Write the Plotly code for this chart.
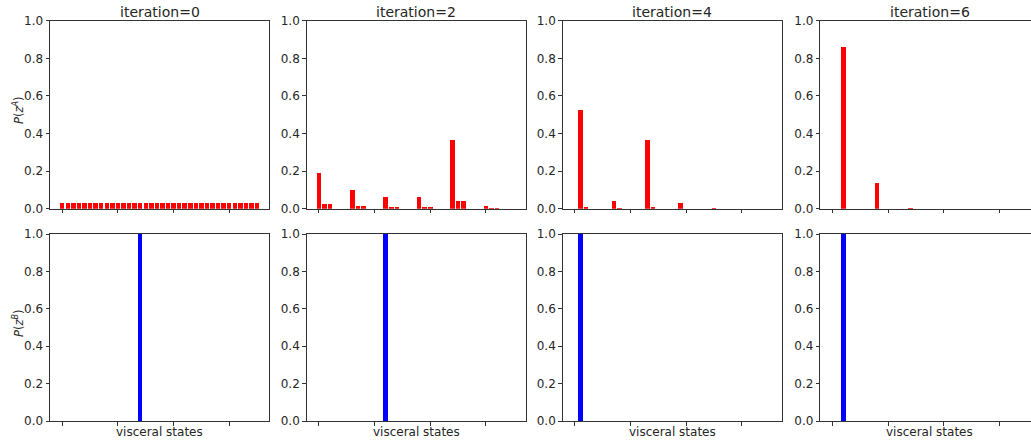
import plotly.graph_objects as go

# ---------------- data ----------------
states = list(range(36))
iterations = ["iteration=0", "iteration=2", "iteration=4", "iteration=6"]

pA_iter0 = [0.0278, 0.0278, 0.0278, 0.0278, 0.0278, 0.0278,
            0.0278, 0.0278, 0.0278, 0.0278, 0.0278, 0.0278,
            0.0278, 0.0278, 0.0278, 0.0278, 0.0278, 0.0278,
            0.0278, 0.0278, 0.0278, 0.0278, 0.0278, 0.0278,
            0.0278, 0.0278, 0.0278, 0.0278, 0.0278, 0.0278,
            0.0278, 0.0278, 0.0278, 0.0278, 0.0278, 0.0278]
pA_iter2 = [0.189, 0.023, 0.023, 0, 0, 0,
            0.102, 0.013, 0.013, 0, 0, 0,
            0.061, 0.007, 0.007, 0, 0, 0,
            0.061, 0.007, 0.007, 0, 0, 0,
            0.366, 0.043, 0.043, 0, 0, 0,
            0.012, 0.003, 0.003, 0, 0, 0]
pA_iter4 = [0, 0.526, 0.009, 0, 0, 0,
            0, 0.041, 0.002, 0, 0, 0,
            0, 0.366, 0.007, 0, 0, 0,
            0, 0.030, 0.001, 0, 0, 0,
            0, 0.002, 0, 0, 0, 0,
            0, 0, 0, 0, 0, 0]
pA_iter6 = [0, 0, 0.860, 0, 0, 0,
            0, 0, 0.135, 0, 0, 0,
            0, 0, 0.003, 0, 0, 0,
            0, 0, 0, 0, 0, 0,
            0, 0, 0, 0, 0, 0,
            0, 0, 0, 0, 0, 0]

pB_iter0 = [0, 0, 0, 0, 0, 0, 0, 0, 0, 0, 0, 0, 0, 0, 1.0, 0, 0, 0,
            0, 0, 0, 0, 0, 0, 0, 0, 0, 0, 0, 0, 0, 0, 0, 0, 0, 0]
pB_iter2 = [0, 0, 0, 0, 0, 0, 0, 0, 0, 0, 0, 0, 1.0, 0, 0, 0, 0, 0,
            0, 0, 0, 0, 0, 0, 0, 0, 0, 0, 0, 0, 0, 0, 0, 0, 0, 0]
pB_iter4 = [0, 1.0, 0, 0, 0, 0, 0, 0, 0, 0, 0, 0, 0, 0, 0, 0, 0, 0,
            0, 0, 0, 0, 0, 0, 0, 0, 0, 0, 0, 0, 0, 0, 0, 0, 0, 0]
pB_iter6 = [0, 0, 1.0, 0, 0, 0, 0, 0, 0, 0, 0, 0, 0, 0, 0, 0, 0, 0,
            0, 0, 0, 0, 0, 0, 0, 0, 0, 0, 0, 0, 0, 0, 0, 0, 0, 0]

x_ticks = [0, 10, 20, 30]
y_ticks = [0.0, 0.2, 0.4, 0.6, 0.8, 1.0]
y_tick_labels = ["0.0", "0.2", "0.4", "0.6", "0.8", "1.0"]
x_label = "visceral states"

top_series = [pA_iter0, pA_iter2, pA_iter4, pA_iter6]
bottom_series = [pB_iter0, pB_iter2, pB_iter4, pB_iter6]

# ---------------- layout geometry (pixels) ----------------
W, H = 1031, 442
col_left = [50, 306.7, 562.7, 820.3]
col_w = 219.3
row_top = [(20.7, 208.7), (234.0, 421.0)]
xr = [-2.19, 37.19]
px_per_unit = col_w / (xr[1] - xr[0])

FONT = "DejaVu Sans"
INK = "#262626"
SPINE = "#333333"

fig = go.Figure()
layout = dict(
    template="none",
    width=W, height=H, margin=dict(l=0, r=0, t=0, b=0, pad=0, autoexpand=False),
    paper_bgcolor="white", plot_bgcolor="white",
    showlegend=False, bargap=0, hovermode=False,
    font=dict(family=FONT, color=INK, size=11),
)
annotations = []

idx = 0
for r in range(2):
    series_list = top_series if r == 0 else bottom_series
    color = "#ff0000" if r == 0 else "#0000ff"
    y0p, y1p = row_top[r]
    for c in range(4):
        idx += 1
        xa = "x" if idx == 1 else f"x{idx}"
        ya = "y" if idx == 1 else f"y{idx}"
        fig.add_trace(go.Bar(
            x=states, y=series_list[c], width=0.8,
            marker=dict(color=color, line=dict(width=0)),
            xaxis=xa, yaxis=ya,
        ))
        left = col_left[c]
        right = min(left + col_w, W)
        rng_end = xr[0] + (right - left) / px_per_unit
        last = (c == 3)
        xkey = "xaxis" if idx == 1 else f"xaxis{idx}"
        ykey = "yaxis" if idx == 1 else f"yaxis{idx}"
        layout[xkey] = dict(
            domain=[left / W, right / W], range=[xr[0], rng_end],
            anchor=ya, showgrid=False, zeroline=False, automargin=False,
            showline=True, linecolor=SPINE, linewidth=1, mirror=True,
            tickmode="array", tickvals=x_ticks, showticklabels=False,
            ticks="outside", ticklen=3.5, tickcolor=SPINE, tickwidth=1,
            fixedrange=True,
        )
        layout[ykey] = dict(
            domain=[1 - y1p / H, 1 - y0p / H], range=[0, 1],
            anchor=xa, showgrid=False, zeroline=False, automargin=False,
            showline=True, linecolor=SPINE, linewidth=1,
            mirror=(not last),
            tickmode="array", tickvals=y_ticks, ticktext=y_tick_labels,
            ticks="outside", ticklen=3.5, tickcolor=SPINE, tickwidth=1,
            tickfont=dict(family=FONT, size=12, color=INK),
            fixedrange=True,
        )
        if r == 0:
            annotations.append(dict(
                text=iterations[c], xref="paper", yref="paper",
                x=(left + col_w / 2) / W, y=1 - 11.5 / H,
                xanchor="center", yanchor="middle", showarrow=False,
                font=dict(family=FONT, size=14, color=INK),
            ))
        else:
            annotations.append(dict(
                text=x_label, xref="paper", yref="paper",
                x=(left + col_w / 2) / W, y=1 - 432 / H,
                xanchor="center", yanchor="middle", showarrow=False,
                font=dict(family=FONT, size=12, color=INK),
            ))

annotations.append(dict(
    text="<i>P</i>(<i>z</i><sup><i>A</i></sup>)", xref="paper", yref="paper",
    x=18 / W, y=1 - 110 / H, xanchor="center", yanchor="middle",
    textangle=-90, showarrow=False, font=dict(family=FONT, size=11.5, color=INK),
))
annotations.append(dict(
    text="<i>P</i>(<i>z</i><sup><i>B</i></sup>)", xref="paper", yref="paper",
    x=18 / W, y=1 - 323 / H, xanchor="center", yanchor="middle",
    textangle=-90, showarrow=False, font=dict(family=FONT, size=11.5, color=INK),
))

layout["annotations"] = annotations
fig.update_layout(**layout)
fig.write_html(
    "out.html",
    config={"displayModeBar": False, "staticPlot": True},
    post_script="document.body.style.margin='0';document.body.style.overflow='hidden';",
)
